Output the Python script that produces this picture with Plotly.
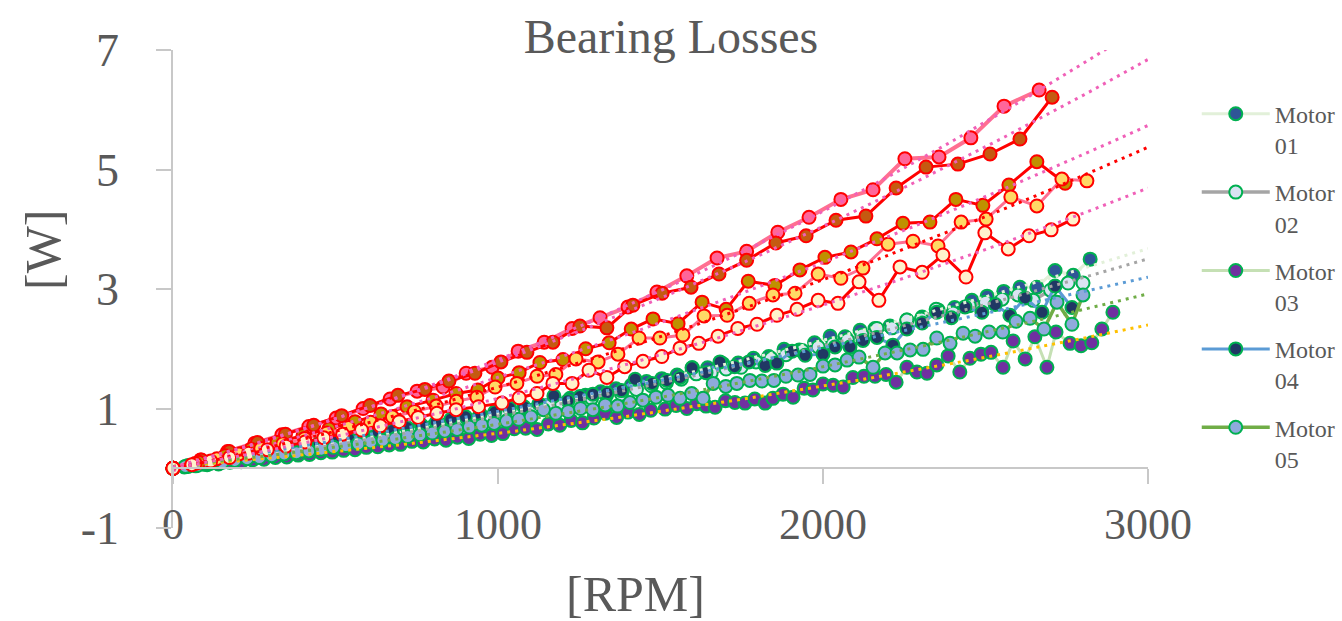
import numpy as np
import plotly.graph_objects as go

# ---------------- data ----------------
rpm_01 = [0, 47, 94, 141, 188, 235, 282, 329, 376, 423, 470, 517, 564, 611, 658, 705, 752, 799, 846, 893,
          940, 987, 1034, 1081, 1128, 1175, 1222, 1269, 1316, 1363, 1410, 1457, 1504, 1551, 1598, 1645, 1692,
          1739, 1786, 1833, 1880, 1927, 1974, 2022, 2068, 2114, 2160, 2206, 2258, 2305, 2354, 2405, 2458,
          2505, 2556, 2606, 2658, 2714, 2770, 2822]
w_01 = [0, 0.04, 0.07, 0.11, 0.15, 0.18, 0.22, 0.26, 0.30, 0.34, 0.39, 0.43, 0.47, 0.52, 0.56, 0.61, 0.66,
        0.70, 0.75, 0.80, 0.85, 0.90, 0.96, 1.00, 1.06, 1.11, 1.17, 1.22, 1.28, 1.33, 1.39, 1.45, 1.50, 1.56,
        1.68, 1.68, 1.75, 1.76, 1.84, 1.87, 1.99, 1.98, 2.10, 2.21, 2.20, 2.31, 2.34, 2.38, 2.48, 2.53, 2.65,
        2.69, 2.81, 2.88, 2.96, 3.03, 3.03, 3.31, 3.23, 3.50]

rpm_02 = [0, 46, 92, 138, 184, 230, 276, 322, 368, 414, 460, 506, 552, 598, 644, 690, 736, 782, 828, 874,
          920, 966, 1012, 1058, 1104, 1150, 1196, 1242, 1288, 1334, 1380, 1426, 1472, 1518, 1564, 1610, 1656,
          1702, 1748, 1794, 1840, 1886, 1936, 1985, 2030, 2075, 2120, 2166, 2212, 2258, 2303, 2348, 2400,
          2450, 2500, 2551, 2600, 2647, 2700, 2754, 2800]
w_02 = [0, 0.03, 0.07, 0.10, 0.13, 0.17, 0.20, 0.24, 0.28, 0.32, 0.35, 0.39, 0.43, 0.49, 0.52, 0.56, 0.60,
        0.64, 0.69, 0.71, 0.78, 0.83, 0.87, 0.92, 0.97, 1.05, 1.07, 1.12, 1.17, 1.22, 1.24, 1.32, 1.38, 1.43,
        1.49, 1.58, 1.60, 1.66, 1.69, 1.78, 1.84, 1.90, 1.97, 2.03, 2.08, 2.15, 2.23, 2.34, 2.35, 2.48, 2.50,
        2.66, 2.60, 2.72, 2.78, 2.83, 2.90, 2.81, 2.98, 3.10, 3.10]

rpm_03 = [0, 35, 70, 105, 140, 175, 210, 245, 280, 315, 350, 385, 420, 455, 490, 525, 560, 595, 630, 665,
          700, 735, 770, 805, 840, 875, 910, 945, 980, 1015, 1050, 1085, 1120, 1155, 1190, 1225, 1260, 1295,
          1330, 1365, 1400, 1435, 1470, 1514, 1548, 1581, 1612, 1640, 1668, 1700, 1729, 1760, 1790, 1822,
          1846, 1877, 1908, 1942, 1969, 2000, 2031, 2062, 2092, 2126, 2160, 2194, 2225, 2258, 2289, 2320,
          2350, 2385, 2421, 2452, 2486, 2517, 2554, 2585, 2622, 2652, 2689, 2717, 2760, 2794, 2827, 2858, 2892]
w_03 = [0.00, 0.02, 0.04, 0.06, 0.07, 0.10, 0.11, 0.14, 0.15, 0.18, 0.19, 0.22, 0.23, 0.26, 0.27, 0.30, 0.31,
        0.35, 0.36, 0.39, 0.40, 0.45, 0.44, 0.49, 0.47, 0.52, 0.50, 0.57, 0.55, 0.58, 0.66, 0.67, 0.65, 0.74,
        0.72, 0.80, 0.76, 0.84, 0.92, 0.85, 0.94, 0.90, 0.97, 0.99, 1.05, 1.00, 1.08, 1.04, 1.02, 1.13, 1.10,
        1.09, 1.16, 1.09, 1.17, 1.24, 1.19, 1.34, 1.31, 1.41, 1.39, 1.36, 1.52, 1.54, 1.54, 1.57, 1.44, 1.69,
        1.61, 1.59, 1.73, 1.88, 1.61, 1.84, 1.91, 1.94, 1.69, 2.13, 1.83, 2.20, 1.69, 2.28, 2.09, 2.05, 2.10,
        2.33, 2.61]

rpm_04 = [0, 45, 90, 135, 180, 225, 270, 315, 360, 405, 450, 495, 540, 585, 630, 675, 720, 765, 810, 855,
          900, 945, 990, 1035, 1080, 1126, 1172, 1215, 1252, 1292, 1335, 1380, 1422, 1474, 1520, 1560, 1597,
          1640, 1683, 1728, 1772, 1822, 1858, 1905, 1945, 2000, 2037, 2083, 2123, 2166, 2215, 2258, 2305,
          2350, 2395, 2437, 2489, 2530, 2575, 2622, 2674, 2714, 2766]
w_04 = [0, 0.04, 0.08, 0.12, 0.16, 0.21, 0.25, 0.29, 0.33, 0.37, 0.42, 0.46, 0.50, 0.55, 0.59, 0.63, 0.68,
        0.72, 0.77, 0.82, 0.86, 0.91, 0.94, 1.01, 1.03, 1.08, 1.21, 1.13, 1.20, 1.24, 1.26, 1.30, 1.49, 1.42,
        1.47, 1.52, 1.68, 1.60, 1.78, 1.70, 1.78, 1.72, 1.76, 1.96, 1.89, 1.91, 2.03, 2.03, 2.14, 2.19, 2.06,
        2.33, 2.43, 2.61, 2.52, 2.70, 2.61, 2.74, 2.56, 2.85, 2.61, 3.05, 2.69]

rpm_05 = [0, 38, 76, 114, 152, 190, 228, 266, 304, 342, 380, 418, 456, 494, 532, 570, 608, 646, 684, 722,
          760, 798, 836, 874, 912, 950, 988, 1026, 1064, 1102, 1140, 1178, 1216, 1254, 1292, 1330, 1368, 1406,
          1446, 1486, 1523, 1560, 1596, 1631, 1662, 1701, 1735, 1775, 1812, 1849, 1886, 1923, 1960, 2000,
          2037, 2074, 2111, 2154, 2191, 2228, 2268, 2308, 2350, 2391, 2431, 2468, 2511, 2553, 2594, 2637,
          2680, 2720, 2766, 2800]
w_05 = [0, 0.03, 0.05, 0.08, 0.10, 0.13, 0.16, 0.18, 0.21, 0.24, 0.26, 0.29, 0.32, 0.35, 0.38, 0.41, 0.44,
        0.47, 0.50, 0.53, 0.56, 0.59, 0.62, 0.65, 0.69, 0.72, 0.75, 0.79, 0.82, 0.86, 0.98, 0.92, 0.95, 1.00,
        0.98, 1.06, 1.04, 1.10, 1.14, 1.19, 1.22, 1.17, 1.25, 1.17, 1.42, 1.37, 1.42, 1.47, 1.46, 1.47, 1.54,
        1.56, 1.57, 1.71, 1.73, 1.81, 1.86, 1.69, 1.93, 1.93, 1.98, 1.99, 2.18, 2.09, 2.26, 2.21, 2.28, 2.28,
        2.46, 2.51, 2.33, 2.78, 2.41, 2.90]

rpm_06 = [0, 85, 168, 252, 335, 418, 502, 585, 668, 751, 831, 902, 982, 1062, 1142, 1228, 1314, 1400, 1489,
          1581, 1674, 1765, 1861, 1957, 2055, 2154, 2252, 2357, 2455, 2557, 2665]
w_06 = [0, 0.14, 0.28, 0.42, 0.56, 0.70, 0.84, 1.00, 1.16, 1.29, 1.36, 1.59, 1.69, 1.96, 2.11, 2.34, 2.52,
        2.70, 2.95, 3.22, 3.52, 3.63, 3.95, 4.20, 4.50, 4.66, 5.18, 5.21, 5.53, 6.06, 6.33]

rpm_07 = [0, 87, 173, 260, 346, 433, 519, 606, 692, 775, 849, 929, 1009, 1089, 1169, 1252, 1335, 1415, 1505,
          1594, 1680, 1765, 1855, 1948, 2040, 2132, 2225, 2317, 2415, 2514, 2606, 2705]
w_07 = [0, 0.14, 0.28, 0.43, 0.57, 0.72, 0.88, 1.05, 1.22, 1.32, 1.46, 1.59, 1.78, 1.94, 2.11, 2.38, 2.35,
        2.73, 2.93, 3.03, 3.25, 3.48, 3.77, 3.89, 4.15, 4.22, 4.69, 5.04, 5.09, 5.26, 5.51, 6.21]

rpm_08 = [0, 80, 160, 240, 320, 400, 480, 560, 640, 720, 800, 871, 938, 1000, 1065, 1129, 1200, 1270, 1342,
          1410, 1477, 1554, 1628, 1702, 1770, 1852, 1929, 2006, 2086, 2166, 2246, 2329, 2409, 2492, 2572,
          2658, 2745]
w_08 = [0, 0.10, 0.21, 0.32, 0.43, 0.55, 0.66, 0.78, 0.91, 1.03, 1.14, 1.25, 1.31, 1.51, 1.60, 1.77, 1.82,
        2.00, 2.10, 2.33, 2.50, 2.42, 2.78, 2.66, 3.13, 3.06, 3.32, 3.53, 3.62, 3.84, 4.10, 4.12, 4.50, 4.40,
        4.74, 5.13, 4.77]

rpm_09 = [0, 68, 135, 203, 270, 338, 405, 473, 540, 608, 675, 743, 810, 872, 935, 991, 1058, 1120, 1178,
          1240, 1308, 1369, 1434, 1498, 1569, 1634, 1705, 1773, 1846, 1914, 1985, 2055, 2123, 2200, 2277,
          2354, 2425, 2502, 2578, 2658, 2735, 2812]
w_09 = [0, 0.08, 0.16, 0.24, 0.33, 0.41, 0.50, 0.59, 0.68, 0.77, 0.86, 0.95, 1.04, 1.12, 1.19, 1.36, 1.42,
        1.54, 1.57, 1.83, 1.78, 1.91, 2.18, 2.18, 2.23, 2.55, 2.56, 2.76, 2.90, 2.93, 3.25, 3.18, 3.35, 3.75,
        3.80, 3.72, 4.12, 4.17, 4.54, 4.39, 4.84, 4.81]

rpm_10 = [0, 58, 116, 174, 232, 290, 348, 406, 464, 522, 580, 638, 696, 754, 812, 871, 940, 1012, 1065,
          1120, 1169, 1228, 1280, 1335, 1390, 1446, 1504, 1560, 1618, 1677, 1738, 1797, 1858, 1920, 1985,
          2046, 2111, 2172, 2237, 2305, 2369, 2440, 2498, 2570, 2634, 2702, 2769]
w_10 = [0, 0.06, 0.12, 0.18, 0.25, 0.31, 0.37, 0.44, 0.51, 0.57, 0.64, 0.71, 0.78, 0.85, 0.92, 0.98, 1.03,
        1.09, 1.18, 1.25, 1.42, 1.42, 1.64, 1.52, 1.70, 1.79, 1.87, 2.01, 2.09, 2.21, 2.34, 2.41, 2.56, 2.66,
        2.81, 2.76, 3.12, 2.81, 3.37, 3.28, 3.57, 3.20, 3.94, 3.67, 3.89, 3.99, 4.17]

motor_names = ["Motor 01", "Motor 02", "Motor 03", "Motor 04", "Motor 05",
               "Motor 06", "Motor 07", "Motor 08", "Motor 09", "Motor 10"]
x_ticks = [0, 1000, 2000, 3000]
y_ticks = [-1, 1, 3, 5, 7]
y_ticklabels = ["-1", "1", "3", "5", "7"]

# ---------------- styles ----------------
styles = [
    dict(line="#E2F0D9", fill="#2F5597", edge="#00B050", trend="#E2F0D9", lw=3, size=13),
    dict(line="#A5A5A5", fill="#DAE3F3", edge="#00B050", trend="#A5A5A5", lw=3.5, size=13),
    dict(line="#C5E0B4", fill="#7030A0", edge="#00B050", trend="#FFC000", lw=3, size=13),
    dict(line="#5B9BD5", fill="#203864", edge="#00B050", trend="#5B9BD5", lw=3, size=13),
    dict(line="#70AD47", fill="#8FAADC", edge="#00B050", trend="#70AD47", lw=3.5, size=13),
    dict(line="#FF6F91", fill="#FF6699", edge="#FF0000", trend="#F060B8", lw=4, size=13),
    dict(line="#FF0000", fill="#C55A11", edge="#FF0000", trend="#F060B8", lw=3, size=13),
    dict(line="#FF0000", fill="#BF9000", edge="#FF0000", trend="#F060B8", lw=3, size=13),
    dict(line="#FF6F91", fill="#FFD966", edge="#FF0000", trend="#FF0000", lw=3, size=13),
    dict(line="#FF0000", fill="#FFF2CC", edge="#FF0000", trend="#F060B8", lw=3, size=13),
]

xs = [rpm_01, rpm_02, rpm_03, rpm_04, rpm_05, rpm_06, rpm_07, rpm_08, rpm_09, rpm_10]
ys = [w_01, w_02, w_03, w_04, w_05, w_06, w_07, w_08, w_09, w_10]

fig = go.Figure()

for i, (name, x, y, st) in enumerate(zip(motor_names, xs, ys, styles)):
    assert len(x) == len(y), name
    fig.add_trace(go.Scatter(
        x=x, y=y, mode="lines+markers", name=name.replace(" ", "<br>"),
        legendgroup=name, showlegend=i < 5, cliponaxis=False,
        line=dict(color=st["line"], width=st["lw"]),
        marker=dict(symbol="circle", size=st["size"], color=st["fill"],
                    line=dict(color=st["edge"], width=2)),
        hoverinfo="x+y+name",
    ))

# polynomial (order 2) trendlines, forecast to 3000 rpm
xt = np.linspace(0, 3000, 151)
for name, x, y, st in zip(motor_names, xs, ys, styles):
    c = np.polyfit(np.array(x, float), np.array(y, float), 2)
    fig.add_trace(go.Scatter(
        x=xt, y=np.polyval(c, xt), mode="lines", showlegend=False, hoverinfo="skip",
        line=dict(color=st["trend"], width=3, dash="3px,5px"),
    ))

axis_col = "#C8C8C8"
txt_col = "#595959"
font_fam = "Liberation Serif, Times New Roman, serif"

fig.update_layout(
    width=1342, height=621,
    margin=dict(l=173, r=194, t=50, b=93, autoexpand=False),
    paper_bgcolor="white", plot_bgcolor="white",
    font=dict(family=font_fam, color=txt_col),
    title=dict(text="Bearing Losses", x=0.5, xref="container", xanchor="center",
               y=1 - 36 / 621, yref="container", yanchor="middle",
               font=dict(size=48, color=txt_col, family=font_fam)),
    xaxis=dict(range=[0, 3000], tickvals=x_ticks, ticks="outside", ticklen=15, tickwidth=1.5,
               tickcolor=axis_col, showline=True, linecolor=axis_col, linewidth=1.5,
               showgrid=False, zeroline=False, anchor="free", position=0.125, automargin=False,
               tickfont=dict(size=44, color=txt_col, family=font_fam), ticklabelstandoff=2),
    yaxis=dict(range=[-1, 7], tickvals=y_ticks, ticktext=y_ticklabels, ticks="outside", ticklen=15,
               tickwidth=1.5, tickcolor=axis_col, showline=True, linecolor=axis_col, linewidth=1.5,
               showgrid=False, zeroline=False, automargin=False,
               tickfont=dict(size=46, color=txt_col, family=font_fam), ticklabelstandoff=28),
    legend=dict(x=1.050, xanchor="left", y=0.913, yanchor="top", valign="top",
                font=dict(size=24, color=txt_col, family=font_fam),
                tracegroupgap=13, bgcolor="rgba(0,0,0,0)", itemwidth=68),
    annotations=[
        dict(text="[RPM]", xref="paper", yref="paper", x=(635 - 173) / 975, y=(528 - 594) / 478,
             xanchor="center", yanchor="middle", showarrow=False,
             font=dict(size=50, color=txt_col, family=font_fam)),
        dict(text="[W]", xref="paper", yref="paper", x=(43 - 173) / 975, y=(528 - 250) / 478,
             xanchor="center", yanchor="middle", showarrow=False, textangle=-90,
             font=dict(size=50, color=txt_col, family=font_fam)),
    ],
)

fig.write_html("out.html", config={"displayModeBar": False},
               post_script="document.body.style.margin='0';")
